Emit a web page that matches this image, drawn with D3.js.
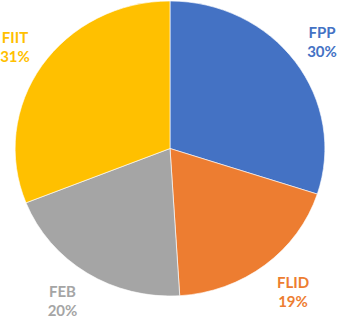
<!DOCTYPE html>
<html><head><meta charset="utf-8">
<script src="https://cdn.jsdelivr.net/npm/d3@7"></script>
<style>html,body{margin:0;padding:0;background:#fff;}</style>
</head><body>
<svg id="chart" width="339" height="318"></svg>
<script>
const categories = ["FPP", "FLID", "FEB", "FIIT"];
const values = [30, 19, 20, 31];
const colors = ["#4472C4", "#ED7D31", "#A5A5A5", "#FFC000"];
const labelPos = [[322, 32.5], [293, 282.5], [62.5, 291.5], [15, 37.5]];

const svg = d3.select("#chart");
const cx = 170, cy = 148.5, r = 147.5, sx = 1.05;
const pie = d3.pie().sort(null).value(d => d)(values);
const arc = d3.arc().innerRadius(0).outerRadius(r);
const g = svg.append("g").attr("transform", `translate(${cx},${cy}) scale(${sx},1)`);
g.selectAll("path").data(pie).join("path")
  .attr("d", arc)
  .attr("fill", (d, i) => colors[i])
  .attr("stroke", "#fff").attr("stroke-width", 0.6);

const total = d3.sum(values);
const lab = svg.append("g").attr("font-family", "Lato, 'Open Sans', sans-serif")
  .attr("font-weight", "bold").attr("font-size", 15).attr("text-anchor", "middle");
categories.forEach((c, i) => {
  const t = lab.append("text").attr("fill", colors[i]).attr("x", labelPos[i][0]).attr("y", labelPos[i][1]);
  t.append("tspan").attr("x", labelPos[i][0]).attr("dy", "0.36em").text(c);
  t.append("tspan").attr("x", labelPos[i][0]).attr("dy", 19).text(Math.round(values[i] / total * 100) + "%");
});
</script>
</body></html>
